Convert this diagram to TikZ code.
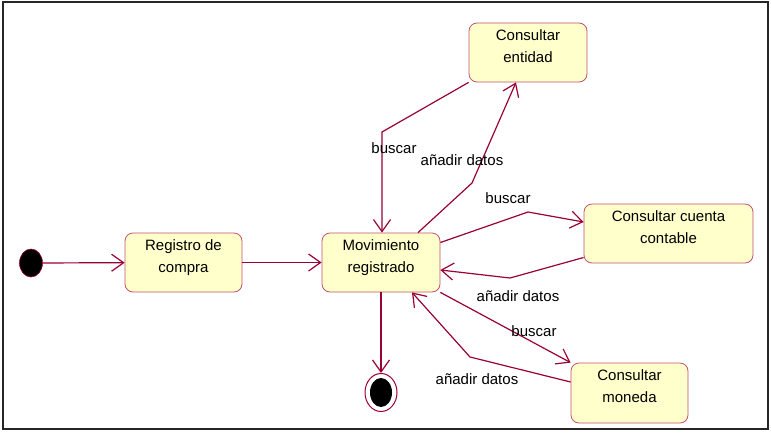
\documentclass[tikz,border=0pt]{standalone}
\usepackage{fontspec}
\setmainfont{Liberation Sans}
\usetikzlibrary{arrows.meta,shapes.geometric}
\definecolor{transred}{RGB}{153,0,51}
\definecolor{stateborder}{RGB}{195,80,110}
\definecolor{statefill}{RGB}{255,255,204}
\begin{document}
\begin{tikzpicture}[x=1pt,y=-1pt,
  font=\fontsize{15}{22}\selectfont,
  state/.style={draw=stateborder,fill=statefill,line width=0.8pt,
    rounded corners=8pt,minimum height=59pt,inner sep=0pt},
  statetext/.style={anchor=north,align=center,inner sep=0pt,yshift=-6.5pt},
  arrowline/.style={draw=transred,line width=1.2pt,
    -{Straight Barb[length=12pt,width=17pt,line width=1.2pt]}},
  tlabel/.style={inner sep=0pt,text=black}]

\useasboundingbox (0,0) rectangle (771,432);
\draw[line width=2pt,black!85] (3,1.5) rectangle (767.5,429);

% states
\node[state,minimum width=117pt,label={[statetext]north:Registro de\\compra}] (reg) at (183.5,262.5) {};
\node[state,minimum width=118pt,label={[statetext]north:Movimiento\\registrado}] (mov) at (381,262.5) {};
\node[state,minimum width=118pt,label={[statetext]north:Consultar\\entidad}] (ent) at (528,52.5) {};
\node[state,minimum width=169pt,label={[statetext]north:Consultar cuenta\\contable}] (cue) at (668.5,233.5) {};
\node[state,minimum width=117pt,minimum height=60pt,label={[statetext]north:Consultar\\moneda}] (mon) at (629.5,393) {};

% initial and final pseudo-states
\node[ellipse,fill=black,draw=transred,line width=0.6pt,minimum width=23pt,minimum height=28pt,inner sep=0pt] (ini) at (31,263) {};
\node[ellipse,fill=white,draw=transred,line width=1pt,minimum width=32pt,minimum height=38pt,inner sep=0pt] (fin) at (381,392.5) {};
\node[ellipse,fill=black,minimum width=22pt,minimum height=29pt,inner sep=0pt] (finin) at (fin) {};

% bend points
\coordinate (b1) at (382,132);
\coordinate (b2) at (472,183);
\coordinate (b3) at (528,212);
\coordinate (b4) at (510,278);
\coordinate (b5) at (470,357);

% transitions
\draw[arrowline] (ini) -- (reg);
\draw[arrowline] (reg) -- (mov);
\draw[arrowline] (ent.south west) -- (b1) -- (b1 |- mov.north);
\draw[arrowline] ([xshift=37pt]mov.north) -- (b2) -- ([xshift=-12pt]ent.south);
\draw[arrowline] ([yshift=20pt]mov.east) -- (b3) -- ([yshift=11.5pt]cue.west);
\draw[arrowline] ([yshift=-24pt]cue.west) -- (b4) -- ([yshift=-7.5pt]mov.east);
\draw[arrowline] (mov.south east) -- (mon.north west);
\draw[arrowline] ([yshift=11pt]mon.west) -- (b5) -- ([xshift=31pt]mov.south);
\draw[arrowline] (mov) -- (fin);

% transition labels
\node[tlabel] (l1) at (394,148) {buscar};
\node[tlabel] (l2) at (462,160) {añadir datos};
\node[tlabel] (l3) at (508,198) {buscar};
\node[tlabel] (l4) at (518,296) {añadir datos};
\node[tlabel] (l5) at (534,331) {buscar};
\node[tlabel] (l6) at (477,379) {añadir datos};
\end{tikzpicture}
\end{document}
